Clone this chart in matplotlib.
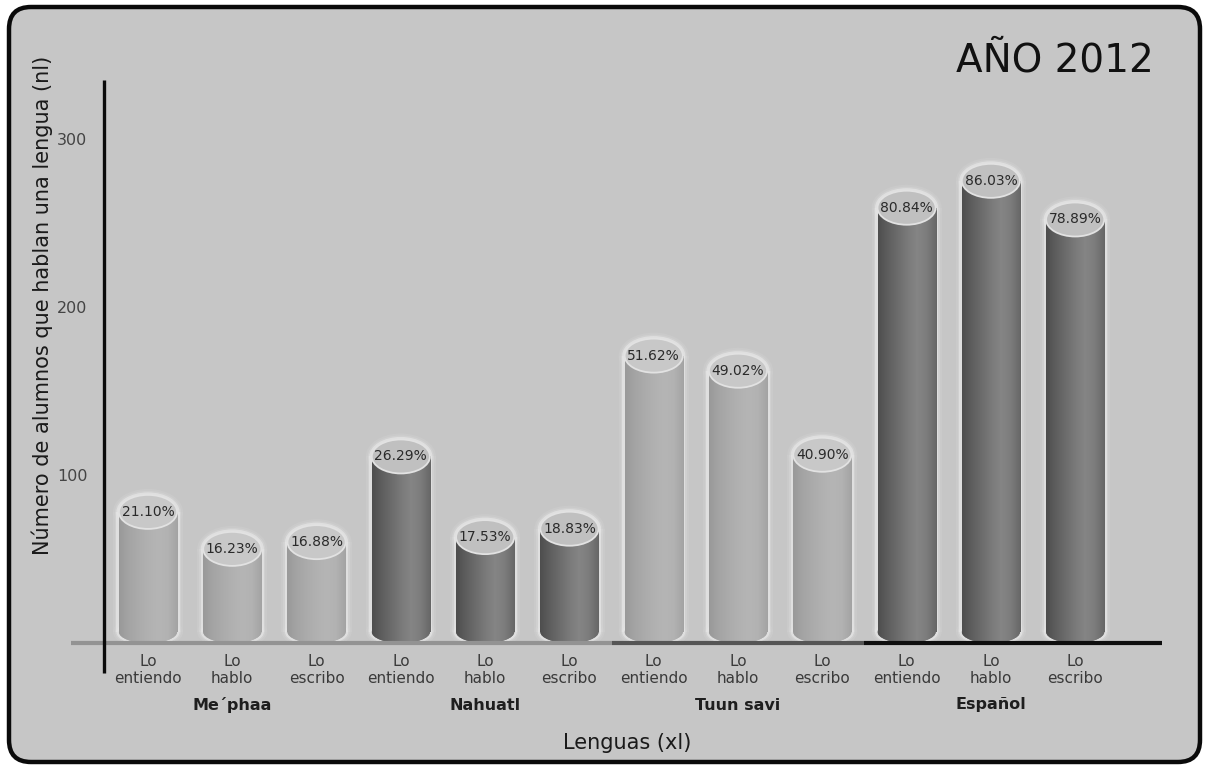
import numpy as np
import matplotlib
matplotlib.use("Agg")
import matplotlib.pyplot as plt
from matplotlib.patches import Ellipse, Rectangle, FancyBboxPatch
from matplotlib.colors import to_rgb

# ---- data -------------------------------------------------------------
languages = ["Me´phaa", "Nahuatl", "Tuun savi", "Español"]
skills = ["Lo\nentiendo", "Lo\nhablo", "Lo\nescribo"]

# number of students (nl) per language and skill
mephaa_counts = [78, 56, 60]
nahuatl_counts = [111, 63, 68]
tuun_savi_counts = [171, 162, 112]
espanol_counts = [259, 275, 252]

# share of students, printed on top of each cylinder
mephaa_pct = [21.10, 16.23, 16.88]
nahuatl_pct = [26.29, 17.53, 18.83]
tuun_savi_pct = [51.62, 49.02, 40.90]
espanol_pct = [80.84, 86.03, 78.89]

y_ticks = [100, 200, 300]

# ---- figure -----------------------------------------------------------
W, H = 1208, 766
fig = plt.figure(figsize=(W / 100, H / 100), dpi=100)
fig.patch.set_facecolor("white")
plt.rcParams["font.family"] = ["DejaVu Sans"]

# backdrop: rounded frame in pixel units
bg = fig.add_axes([0, 0, 1, 1], zorder=0)
bg.set_xlim(0, W)
bg.set_ylim(H, 0)
bg.axis("off")
bg.add_patch(FancyBboxPatch((9, 7), 1191, 755,
                            boxstyle="round,pad=0,rounding_size=22",
                            facecolor="#c6c6c6", edgecolor="#0a0a0a", lw=3.2))

left_px, right_px, top_px, base_px = 104, 1162, 80, 643
ax = fig.add_axes([left_px / W, (H - base_px) / H,
                   (right_px - left_px) / W, (base_px - top_px) / H], zorder=1)
ax.set_facecolor("none")
for s in ax.spines.values():
    s.set_visible(False)

xmin, xmax = -0.522, 12.03
ymin, ymax = 0, 335
ax.set_xlim(xmin, xmax)
ax.set_ylim(ymin, ymax)
ux = (right_px - left_px) / (xmax - xmin)   # pixels per x unit
uy = (base_px - top_px) / (ymax - ymin)     # pixels per y unit

counts = np.array(mephaa_counts + nahuatl_counts + tuun_savi_counts + espanol_counts, float)
pcts = mephaa_pct + nahuatl_pct + tuun_savi_pct + espanol_pct
positions = np.arange(len(counts))
dark_group = [False, True, False, True]
is_dark = [dark_group[i // 3] for i in positions]

bar_w = 0.69
top_h = 34 / uy          # height of the top ellipse
bot_r = 11 / uy          # radius of the rounded base


def gradient(stops):
    xs = np.linspace(0, 1, len(stops))
    cols = np.array([to_rgb(c) for c in stops])
    t = np.linspace(0, 1, 200)
    img = np.stack([np.interp(t, xs, cols[:, k]) for k in range(3)], axis=-1)
    return img[np.newaxis, :, :]


dark_grad = gradient(["#4e4e4e", "#5e5e5e", "#6c6c6c", "#7a7a7a", "#858585", "#7c7c7c", "#666666"])
light_grad = gradient(["#999999", "#a4a4a4", "#ababab", "#b1b1b1", "#b5b5b5", "#b2b2b2", "#a3a3a3"])

bars = ax.bar(positions, counts - bot_r, bottom=bot_r, width=bar_w,
              color=["#707070" if d else "#acacac" for d in is_dark], zorder=3)

for bar, v, p, d in zip(bars, counts, pcts, is_dark):
    x0 = bar.get_x()
    x1 = x0 + bar.get_width()
    xc = (x0 + x1) / 2
    grad = dark_grad if d else light_grad
    mid = "#707070" if d else "#acacac"

    # soft light halo around the cylinder
    for gpx, col, a in [(6, "#d2d2d2", 0.35), (4, "#d8d8d8", 0.45), (2.5, "#e4e4e4", 0.8)]:
        gx, gy = gpx / ux, gpx / uy
        ax.add_patch(Rectangle((x0 - gx, bot_r), bar_w + 2 * gx, v - bot_r,
                               facecolor=col, alpha=a, lw=0, zorder=2))
        ax.add_patch(Ellipse((xc, bot_r), bar_w + 2 * gx, 2 * bot_r + 2 * gy,
                             facecolor=col, alpha=a, lw=0, zorder=2))
        ax.add_patch(Ellipse((xc, v), bar_w + 2 * gx, top_h + 2 * gy,
                             facecolor=col, alpha=a, lw=0, zorder=2))

    # shaded body
    im = ax.imshow(grad, extent=[x0, x1, bot_r, v], aspect="auto",
                   interpolation="bilinear", zorder=3.5)
    im.set_clip_path(bar)

    # rounded base
    base = Ellipse((xc, bot_r), bar_w, 2 * bot_r, facecolor=mid, lw=0, zorder=3)
    ax.add_patch(base)
    im2 = ax.imshow(grad, extent=[x0, x1, 0, 2 * bot_r], aspect="auto",
                    interpolation="bilinear", zorder=3.5)
    im2.set_clip_path(base)

    # top face
    ax.add_patch(Ellipse((xc, v), bar_w, top_h,
                         facecolor="#c0c0c0" if d else "#c8c8c8",
                         edgecolor="#e2e2e2", lw=1.3, zorder=5))
    ax.text(xc, v, f"{p:.2f}%", ha="center", va="center", fontsize=10,
            color="#2a2a2a", zorder=6)

ax.set_xlim(xmin, xmax)
ax.set_ylim(ymin, ymax)

# ground line, shaded by language block
x_left = xmin - 33 / ux
segments = [(x_left, 5.5, "#939393"), (5.5, 8.5, "#555555"), (8.5, xmax, "#0e0e0e")]
for a, b, c in segments:
    ax.plot([a, b], [0, 0], color=c, lw=3, solid_capstyle="butt",
            clip_on=False, zorder=4)

# vertical axis line
ax.plot([xmin, xmin], [-30 / uy, ymax], color="#0a0a0a", lw=2.4,
        solid_capstyle="butt", clip_on=False, zorder=4)

ax.set_xticks(positions, skills * len(languages))
ax.set_yticks(y_ticks, [str(t) for t in y_ticks])
ax.tick_params(axis="x", length=0, pad=8, labelsize=11, labelcolor="#3a3a3a")
ax.tick_params(axis="y", length=0, pad=12, labelsize=11.5, labelcolor="#444444")
for lab in ax.get_xticklabels():
    lab.set_linespacing(1.15)

for g, name in enumerate(languages):
    ax.text(3 * g + 1, -62 / uy, name, ha="center", va="center",
            fontsize=11.5, fontweight="bold", color="#1e1e1e", clip_on=False)

fig.text(42 / W, 1 - 305 / H, "Número de alumnos que hablan una lengua (nl)",
         rotation=90, ha="center", va="center", fontsize=15, color="#1a1a1a")
fig.text(627 / W, 1 - 743 / H, "Lenguas (xl)", ha="center", va="center",
         fontsize=15, color="#1a1a1a")
fig.text(1055 / W, 1 - 60 / H, "AÑO 2012", ha="center", va="center",
         fontsize=28, color="#111111")

fig.savefig("out.png", dpi=100, facecolor=fig.get_facecolor())
